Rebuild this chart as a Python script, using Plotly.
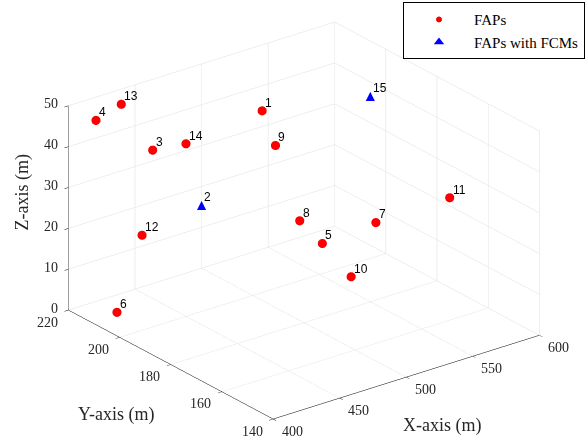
import plotly.graph_objects as go

# FAP positions (m)
fap_ids = ["1", "3", "4", "5", "6", "7", "8", "9", "10", "11", "12", "13", "14"]
fap_x = [507, 444, 411, 533, 421, 554, 516, 517, 545, 571, 436, 430, 469]
fap_y = [200, 210, 215, 190, 212, 180, 190, 200, 185, 160, 210, 215, 210]
fap_z = [44.5, 38, 47, 12.7, 0, 19, 20, 35, 5, 30, 18, 49, 37]

# FAPs with FCMs (m)
fcm_ids = ["2", "15"]
fcm_x = [461.5, 569]
fcm_y = [200, 190]
fcm_z = [26, 45]

x_ticks = [400, 450, 500, 550, 600]
y_ticks = [140, 160, 180, 200, 220]
z_ticks = [0, 10, 20, 30, 40, 50]

x_range = [400, 600]
y_range = [140, 220]
z_range = [0, 50]

serif = "Liberation Serif"
sans = "Liberation Sans"
tick_col = "#262626"

fig = go.Figure()

fig.add_trace(go.Scatter3d(
    x=fap_x, y=fap_y, z=fap_z, mode="markers", name="FAPs",
    marker=dict(symbol="circle", size=5, color="red", line=dict(color="#e00000", width=1)),
))

# legend entry for triangle markers (scatter3d has no triangle symbol)
fig.add_trace(go.Scatter(
    x=[None], y=[None], mode="markers", name="FAPs with FCMs",
    marker=dict(symbol="triangle-up", size=9, color="blue"),
))

fig.add_trace(go.Scatter3d(
    x=fcm_x, y=fcm_y, z=fcm_z, mode="text", showlegend=False,
    text=["▲"] * len(fcm_ids), textposition="middle center",
    textfont=dict(family="DejaVu Sans", size=12, color="blue"),
))

axis_common = dict(
    showbackground=False, gridcolor="#dedede", gridwidth=1,
    showline=True, linecolor="black", linewidth=1,
    ticks="outside", tickcolor="black", ticklen=5,
    zeroline=False, showspikes=False, showticklabels=False,
    title=dict(text=""),
)

annotations = []
# point labels
lab_font = dict(family=sans, size=12, color="black")
for px, py, pz, t in zip(fap_x + fcm_x, fap_y + fcm_y, fap_z + fcm_z, fap_ids + fcm_ids):
    annotations.append(dict(x=px, y=py, z=pz, text=t, showarrow=False,
                            xanchor="left", yanchor="bottom", xshift=1, yshift=-1, font=lab_font))

tfont = dict(family=serif, size=14, color=tick_col)
for v in x_ticks:
    annotations.append(dict(x=v, y=y_range[0], z=z_range[0], text=str(v), showarrow=False,
                            xshift=19, yshift=-12, font=tfont))
for v in y_ticks:
    annotations.append(dict(x=x_range[0], y=v, z=z_range[0], text=str(v), showarrow=False,
                            xshift=-21, yshift=-12, font=tfont))
for v in z_ticks:
    annotations.append(dict(x=x_range[0], y=y_range[1], z=v, text=str(v), showarrow=False,
                            xanchor="right", xshift=-8, yshift=2, font=tfont))

title_font = dict(family=serif, size=18, color=tick_col)
annotations.append(dict(x=500, y=y_range[0], z=z_range[0], text="X-axis (m)", showarrow=False,
                        xshift=36, yshift=-48, font=title_font))
annotations.append(dict(x=x_range[0], y=180, z=z_range[0], text="Y-axis (m)", showarrow=False,
                        xshift=-55, yshift=-50, font=title_font))
annotations.append(dict(x=x_range[0], y=y_range[1], z=25, text="Z-axis (m)", showarrow=False,
                        textangle=-90, xshift=-46, yshift=16, font=title_font))

fig.update_layout(
    width=585, height=439,
    margin=dict(l=0, r=0, t=0, b=0),
    paper_bgcolor="white", plot_bgcolor="rgba(0,0,0,0)",
    xaxis=dict(visible=False), yaxis=dict(visible=False),
    legend=dict(x=1, xanchor="right", y=0.995, yanchor="top", itemwidth=60,
                bordercolor="black", borderwidth=1, bgcolor="white",
                font=dict(family=serif, size=15, color="black")),
    scene=dict(
        domain=dict(x=[0, 1], y=[0, 1]),
        xaxis=dict(axis_common, range=x_range, tickvals=x_ticks),
        yaxis=dict(axis_common, range=y_range, tickvals=y_ticks),
        zaxis=dict(axis_common, range=z_range, tickvals=z_ticks),
        aspectmode="manual", aspectratio=dict(x=1.53, y=1.53, z=1.02),
        camera=dict(eye=dict(x=-0.779, y=-0.928, z=0.548),
                    up=dict(x=0, y=0, z=1),
                    center=dict(x=-0.041, y=0.032, z=0.005),
                    projection=dict(type="orthographic")),
        annotations=annotations,
    ),
)

fig.write_html("out.html", config={"displayModeBar": False},
               post_script="document.body.style.margin='0';")
